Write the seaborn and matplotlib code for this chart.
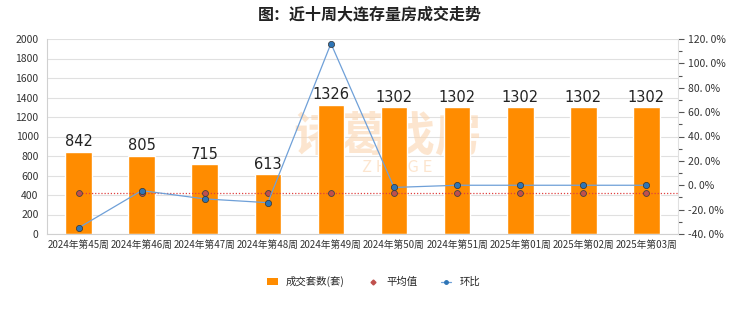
import matplotlib
matplotlib.use("Agg")
import matplotlib.pyplot as plt
import seaborn as sns
import pandas as pd
import numpy as np
from matplotlib.lines import Line2D
from matplotlib.patches import Patch

weeks = ["2024年第45周", "2024年第46周", "2024年第47周", "2024年第48周", "2024年第49周",
         "2024年第50周", "2024年第51周", "2025年第01周", "2025年第02周", "2025年第03周"]
deals = [842, 805, 715, 613, 1326, 1302, 1302, 1302, 1302, 1302]
avg = [420, 420, 420, 420, 420, 420, 420, 420, 420, 420]
mom = [-35.0, -4.4, -11.2, -14.3, 116.3, -1.8, 0.0, 0.0, 0.0, 0.0]

sns.set_theme(style="white")
plt.rcParams['font.family'] = ['Noto Sans CJK SC', 'DejaVu Sans']

df = pd.DataFrame({"week": weeks, "deals": deals, "avg": avg, "mom": mom})

fig = plt.figure(figsize=(7.4, 3.12), dpi=100)
ax = fig.add_axes([47/740, 78/312, 631/740, 195/312])

sns.barplot(data=df, x="week", y="deals", color="#ff8c00", saturation=1, width=0.42, ax=ax, zorder=2)
ax.set_ylim(0, 2000)
ax.set_yticks(range(0, 2001, 200))
ax.yaxis.grid(True, color="#e0e0e0", linewidth=0.8, zorder=0)
ax.set_axisbelow(True)
for s in ["top", "right"]:
    ax.spines[s].set_visible(False)
for s in ["left", "bottom"]:
    ax.spines[s].set_color("#d0d0d0")
    ax.spines[s].set_linewidth(0.8)
ax.tick_params(axis="y", labelsize=7.5, colors="#333333", length=0, pad=6)
ax.tick_params(axis="x", labelsize=7, colors="#333333", length=0, pad=4)

for i, v in enumerate(deals):
    ax.text(i, v + 25, str(v), ha="center", va="bottom", fontsize=10.5, color="#222222",
            family=['DejaVu Sans'], zorder=5)

# average dotted line and markers
ax.axhline(420, xmin=0.05, xmax=1, color="#e04040", linestyle=(0, (1, 1.5)), linewidth=0.9, zorder=3)
sns.scatterplot(data=df, x="week", y="avg", ax=ax, color="#c0504d", edgecolor="#444444",
                s=18, linewidth=0.6, zorder=4, legend=False)

# watermark (behind bars)
ax.text(4.9, 1000, "诸葛找房", ha="center", va="center", fontsize=34, color="#fbd5b0",
        alpha=0.6, zorder=1, fontweight="bold")
ax.text(5.05, 680, "Z H U G E", ha="center", va="center", fontsize=12, color="#fbd5b0",
        alpha=0.6, zorder=1)
ax.set_xlabel("")
ax.set_ylabel("")

ax2 = ax.twinx()
sns.lineplot(data=df, x="week", y="mom", ax=ax2, color="#6fa0d8", linewidth=0.9,
             marker="o", markersize=4.5, markerfacecolor="#2e75b6", markeredgecolor="#333333",
             markeredgewidth=0.5, zorder=5, sort=False)
ax2.set_ylim(-40, 120)
ax2.set_yticks(range(-40, 121, 20))
ax2.set_yticks(range(-30, 111, 20), minor=True)
ax2.set_yticklabels([f"{v}. 0%" for v in range(-40, 121, 20)])
ax2.set_ylabel("")
ax2.set_xlabel("")
ax2.tick_params(axis="y", which="major", labelsize=7.5, colors="#333333", length=4, width=0.8, pad=3)
ax2.tick_params(axis="y", which="minor", length=3, width=0.8, color="#555555")
ax2.tick_params(axis="y", which="major", color="#555555")
for s in ["top", "left", "bottom"]:
    ax2.spines[s].set_visible(False)
ax2.spines["right"].set_color("#e0e0e0")
ax2.spines["right"].set_linewidth(0.8)
ax2.grid(False)
ax.set_xlim(-0.5, 9.5)
ax.set_xlabel("")
ax.set_ylabel("")

fig.text(0.5, 0.955, "图：近十周大连存量房成交走势", ha="center", va="center", fontsize=11.5,
         color="#222222", fontweight="bold")

handles = [
    Patch(facecolor="#ff8c00", edgecolor="none"),
    Line2D([], [], linestyle="none", marker="D", markersize=2.5, markerfacecolor="#c0504d",
           markeredgecolor="#c0504d"),
    Line2D([], [], color="#6fa0d8", linewidth=0.9, marker="o", markersize=2.5,
           markerfacecolor="#2e75b6", markeredgecolor="#2e75b6"),
]
fig.legend(handles, ["成交套数(套)", "平均值", "环比"], loc="center", bbox_to_anchor=(0.505, 0.097),
           ncol=3, frameon=False, fontsize=7.5, handlelength=1.0, handleheight=0.7,
           columnspacing=2.2, handletextpad=0.8)

fig.savefig("out.png", dpi=100)
